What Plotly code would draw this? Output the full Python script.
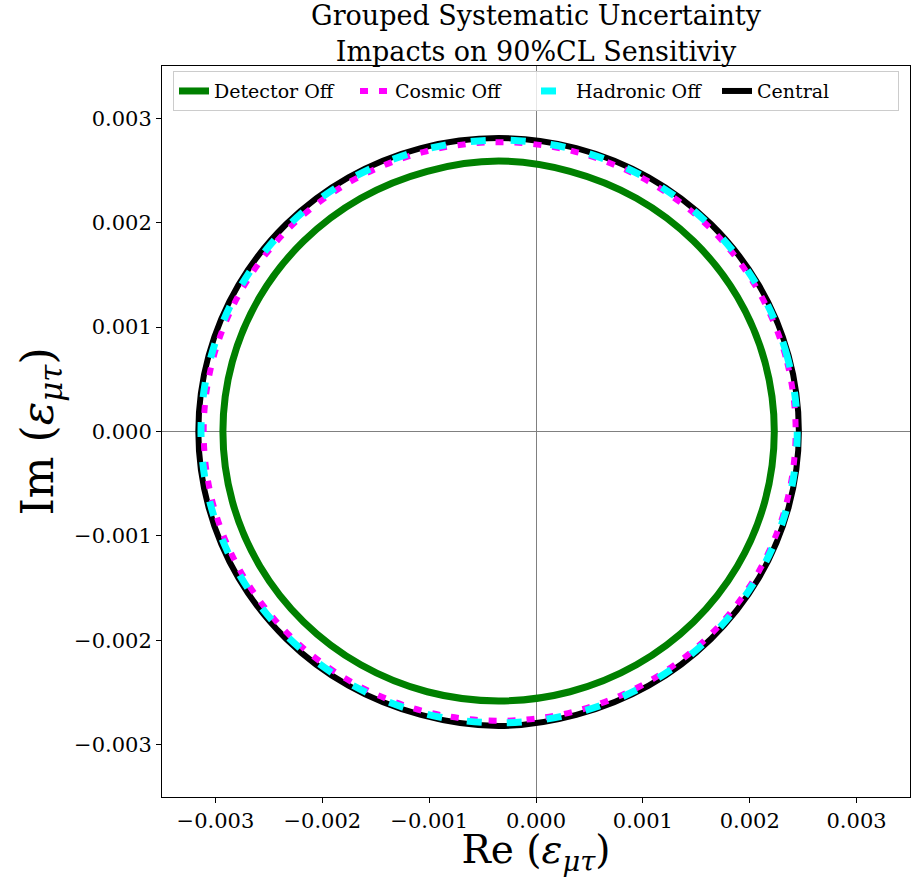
import plotly.graph_objects as go

# ---- data ----
names = ["Detector Off", "Cosmic Off", "Hadronic Off", "Central"]

central_re = [0.00246, 0.002364, 0.002084, 0.001637, 0.001055, 0.000377, -0.00035, -0.001077, -0.001755, -0.002337, -0.002784, -0.003064, -0.00316,
              -0.003064, -0.002784, -0.002337, -0.001755, -0.001077, -0.00035, 0.000377, 0.001055, 0.001637, 0.002084, 0.002364, 0.00246]
central_im = [0.0, 0.000727, 0.001405, 0.001987, 0.002434, 0.002714, 0.00281, 0.002714, 0.002434, 0.001987, 0.001405, 0.000727, 0.0,
              -0.000727, -0.001405, -0.001987, -0.002434, -0.002714, -0.00282, -0.002714, -0.002434, -0.001987, -0.001405, -0.000727, 0.0]

detector_re = [0.00223, 0.002142, 0.001884, 0.001474, 0.00094, 0.000318, -0.00035, -0.001018, -0.00164, -0.002174, -0.002584, -0.002842, -0.00293,
               -0.002842, -0.002584, -0.002174, -0.00164, -0.001018, -0.00035, 0.000318, 0.00094, 0.001474, 0.001884, 0.002142, 0.00223]
detector_im = [0.0, 0.000668, 0.00129, 0.001824, 0.002234, 0.002492, 0.00259, 0.002492, 0.002234, 0.001824, 0.00129, 0.000668, 0.0,
               -0.000668, -0.00129, -0.001824, -0.002234, -0.002492, -0.00258, -0.002492, -0.002234, -0.001824, -0.00129, -0.000668, 0.0]

cosmic_re = [0.00243, 0.002336, 0.002059, 0.001619, 0.001045, 0.000377, -0.00034, -0.001057, -0.001725, -0.002299, -0.002739, -0.003016, -0.00311,
             -0.003016, -0.002739, -0.002299, -0.001725, -0.001057, -0.00034, 0.000377, 0.001045, 0.001619, 0.002059, 0.002336, 0.00243]
cosmic_im = [0.0, 0.000717, 0.001385, 0.001959, 0.002399, 0.002676, 0.00277, 0.002676, 0.002399, 0.001959, 0.001385, 0.000717, 0.0,
             -0.000717, -0.001385, -0.001959, -0.002399, -0.002676, -0.00277, -0.002676, -0.002399, -0.001959, -0.001385, -0.000717, 0.0]

hadronic_re = [0.002445, 0.00235, 0.002071, 0.001628, 0.00105, 0.000377, -0.000345, -0.001067, -0.00174, -0.002318, -0.002761, -0.00304, -0.003135,
               -0.00304, -0.002761, -0.002318, -0.00174, -0.001067, -0.000345, 0.000377, 0.00105, 0.001628, 0.002071, 0.00235, 0.002445]
hadronic_im = [0.0, 0.000722, 0.001395, 0.001973, 0.002416, 0.002695, 0.00279, 0.002695, 0.002416, 0.001973, 0.001395, 0.000722, 0.0,
               -0.000722, -0.001395, -0.001973, -0.002416, -0.002695, -0.00279, -0.002695, -0.002416, -0.001973, -0.001395, -0.000722, 0.0]

tick_vals = [-0.003, -0.002, -0.001, 0.0, 0.001, 0.002, 0.003]
tick_text = ["\u22120.003", "\u22120.002", "\u22120.001", "0.000", "0.001", "0.002", "0.003"]

FONT = "DejaVu Serif"

fig = go.Figure()
# draw order: central below dashed curves
fig.add_trace(go.Scatter(x=central_re, y=central_im, mode="lines", name=names[3], legendrank=4,
                         line=dict(color="black", width=6, shape="spline")))
fig.add_trace(go.Scatter(x=detector_re, y=detector_im, mode="lines", name=names[0], legendrank=1,
                         line=dict(color="green", width=7, shape="spline")))
fig.add_trace(go.Scatter(x=cosmic_re, y=cosmic_im, mode="lines", name=names[1], legendrank=2,
                         line=dict(color="magenta", width=6, shape="spline", dash="8px,11px")))
fig.add_trace(go.Scatter(x=hadronic_re, y=hadronic_im, mode="lines", name=names[2], legendrank=3,
                         line=dict(color="cyan", width=7, shape="spline", dash="15px,25px")))

axis_common = dict(
    showgrid=False, zeroline=True, zerolinecolor="gray", zerolinewidth=1,
    showline=True, linecolor="black", linewidth=1, mirror=True,
    ticks="outside", ticklen=5, tickcolor="black",
    tickvals=tick_vals, ticktext=tick_text,
    tickfont=dict(family=FONT, size=21, color="black"),
)

fig.update_layout(
    width=911, height=877,
    margin=dict(l=162, r=1, t=66, b=80),
    plot_bgcolor="white", paper_bgcolor="white",
    title=dict(text="Grouped Systematic Uncertainty<br>Impacts on 90%CL Sensitiviy",
               x=0.5, xref="paper", xanchor="center", y=0.971, yref="container", yanchor="top",
               font=dict(family=FONT, size=27, color="black")),
    xaxis=dict(range=[-0.0035, 0.0035],
               title=dict(text="Re (<i>ε</i><sub><i>μτ</i></sub>)", font=dict(family=FONT, size=39, color="black"), standoff=14),
               **axis_common),
    yaxis=dict(range=[-0.0035, 0.0035],
               title=dict(text="Im (<i>ε</i><sub><i>μτ</i></sub>)", font=dict(family=FONT, size=44, color="black"), standoff=6),
               **axis_common),
    legend=dict(orientation="h", x=0.5, xanchor="center", y=0.993, yanchor="top",
                bgcolor="rgba(255,255,255,0.8)", bordercolor="#cccccc", borderwidth=1,
                entrywidth=136, entrywidthmode="pixels",
                font=dict(family=FONT, size=19, color="black"), traceorder="normal"),
    showlegend=True,
)

fig.write_html("out.html")
